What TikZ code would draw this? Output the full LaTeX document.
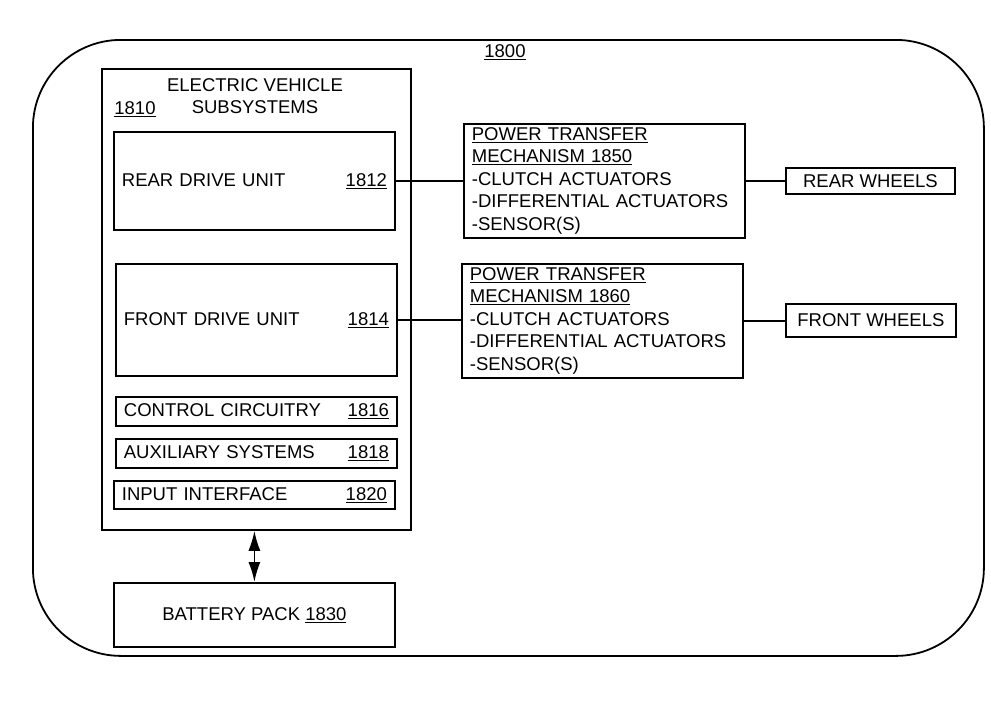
\documentclass[tikz,border=0pt]{standalone}
\usepackage{fontspec}
\setmainfont{Liberation Sans}
\usetikzlibrary{positioning}
\usetikzlibrary{arrows.meta}

\begin{document}
\begin{tikzpicture}[x=1pt,y=-1pt,line width=1.8pt,
	font=\fontsize{18.5}{22.5}\selectfont,
	box/.style={draw,anchor=north west,inner sep=0pt},
	unit/.style={draw,anchor=north west,text width=265pt,inner xsep=8pt,align=left},
	wheels/.style={draw,anchor=north west,inner sep=0pt,align=center}]
	\useasboundingbox (0,0) rectangle (991,720);
	\node[box,rounded corners=88pt,minimum width=951pt,minimum height=616pt] (sys) at (32,39) {};
	\node (sysnum) at (505,52) {\underline{1800}};
	% subsystems
	\node[box,minimum width=309pt,minimum height=461pt] (evs) at (101,68) {};
	\node[align=center] (evstitle) at (255,96) {ELECTRIC VEHICLE\\SUBSYSTEMS};
	\node (evsnum) at (135,109) {\underline{1810}};
	\node[unit,minimum height=98pt] (rdu) at (113,131) {REAR DRIVE UNIT\hfill\underline{1812}};
	\node[unit,minimum height=112pt] (fdu) at (115,263) {FRONT DRIVE UNIT\hfill\underline{1814}};
	\node[unit,minimum height=29pt] (ctrl) at (115,396) {CONTROL CIRCUITRY\hfill\underline{1816}};
	\node[unit,minimum height=29pt] (aux) at (115,438) {AUXILIARY SYSTEMS\hfill\underline{1818}};
	\node[unit,minimum height=28pt] (inp) at (113,480) {INPUT INTERFACE\hfill\underline{1820}};
	\node[box,minimum width=281pt,minimum height=64pt] (bat) at (113,582) {BATTERY PACK \underline{1830}};
	% power transfer
	\node[unit,minimum height=114pt] (ptma) at (463,123) {\underline{POWER TRANSFER}\\
		\underline{MECHANISM 1850}\\-CLUTCH ACTUATORS\\-DIFFERENTIAL ACTUATORS\\-SENSOR(S)};
	\node[unit,minimum height=114pt] (ptmb) at (461,263) {\underline{POWER TRANSFER}\\
		\underline{MECHANISM 1860}\\-CLUTCH ACTUATORS\\-DIFFERENTIAL ACTUATORS\\-SENSOR(S)};
	\node[wheels,minimum width=169pt,minimum height=26pt] (rw) at (785,167) {REAR WHEELS};
	\node[wheels,minimum width=170pt,minimum height=33pt] (fw) at (785,303) {FRONT WHEELS};
	\draw (rdu.east) -- (rdu.east -| ptma.west);
	\draw (ptma.east) -- (ptma.east -| rw.west);
	\draw (fdu.east) -- (fdu.east -| ptmb.west);
	\draw (ptmb.east) -- (ptmb.east -| fw.west);
	\draw[{Latex[length=20pt,width=12pt]}-{Latex[length=20pt,width=12pt]}] (bat.north |- evs.south) -- (bat.north);
\end{tikzpicture}
\end{document}
